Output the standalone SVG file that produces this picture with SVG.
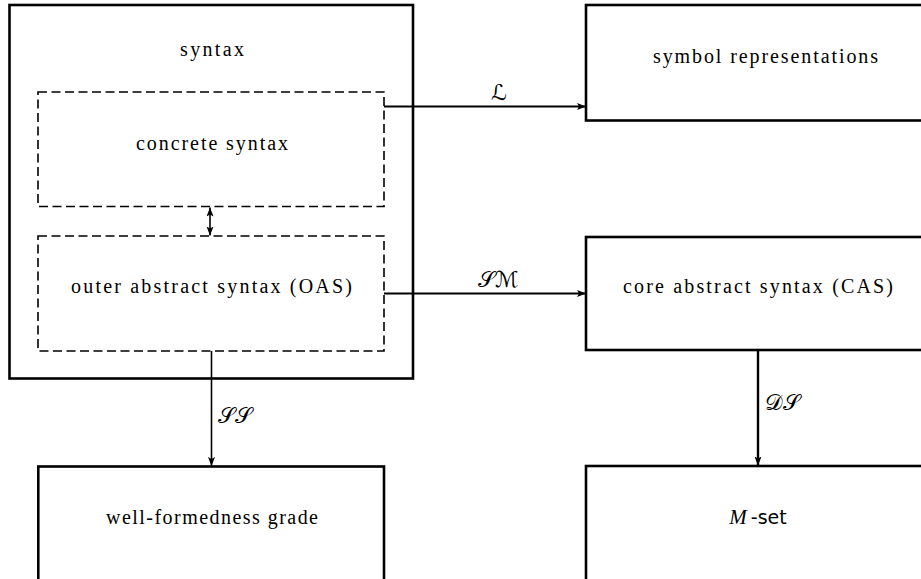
<svg xmlns="http://www.w3.org/2000/svg" width="921" height="579" viewBox="0 0 921 579">
<style>
  .box { fill: none; stroke: #000; stroke-width: 2.6; }
  .dash { fill: none; stroke: #000; stroke-width: 1.6; stroke-dasharray: 9 4.5; }
  .lbl { font-family: "Liberation Serif", "DejaVu Serif", serif; font-size: 20px; fill: #000; text-anchor: middle; }
  .math { font-family: "DejaVu Serif", "DejaVu Sans", "Noto Sans", serif; font-size: 22px; fill: #000; text-anchor: middle; }
  .conn { stroke: #000; fill: none; }
</style>
<defs>
  <marker id="ah" markerUnits="userSpaceOnUse" markerWidth="10" markerHeight="8" refX="9" refY="3.5" orient="auto">
    <path d="M0,0 L9,3.5 L0,7 L2,3.5 Z" fill="#000"/>
  </marker>
  <marker id="ahs" markerUnits="userSpaceOnUse" markerWidth="10" markerHeight="8" refX="9" refY="3.5" orient="auto-start-reverse">
    <path d="M0,0 L9,3.5 L0,7 L2,3.5 Z" fill="#000"/>
  </marker>
</defs>

<g id="syntax">
  <rect class="box" x="9.5" y="5" width="403.5" height="373.5"/>
  <text class="lbl" x="212" y="56" textLength="64" lengthAdjust="spacing">syntax</text>
</g>
<g id="concrete-syntax">
  <rect class="dash" x="38" y="92" width="346" height="114.5"/>
  <text class="lbl" x="212" y="150" textLength="152" lengthAdjust="spacing">concrete syntax</text>
</g>
<g id="outer-abstract-syntax">
  <rect class="dash" x="38" y="236" width="346" height="115"/>
  <text class="lbl" x="211.5" y="293" textLength="281" lengthAdjust="spacing">outer abstract syntax (OAS)</text>
</g>
<g id="symbol-representations">
  <rect class="box" x="586" y="5" width="345" height="115.5"/>
  <text class="lbl" x="765.5" y="63" textLength="225" lengthAdjust="spacing">symbol representations</text>
</g>
<g id="core-abstract-syntax">
  <rect class="box" x="586" y="237" width="345" height="113"/>
  <text class="lbl" x="758" y="293" textLength="270" lengthAdjust="spacing">core abstract syntax (CAS)</text>
</g>
<g id="well-formedness-grade">
  <rect class="box" x="38.3" y="466.5" width="345.7" height="130"/>
  <text class="lbl" x="212" y="524" textLength="212" lengthAdjust="spacing">well-formedness grade</text>
</g>
<g id="m-set">
  <rect class="box" x="586" y="466" width="345" height="130"/>
  <text x="758" y="523.5" text-anchor="middle" fill="#000"><tspan font-family="Liberation Serif, serif" font-style="italic" font-size="21">M</tspan><tspan dx="4" font-family="DejaVu Sans, sans-serif" font-size="19">-set</tspan></text>
</g>

<g id="connectors">
  <line class="conn" x1="384" y1="106.5" x2="586" y2="106.5" stroke-width="2" marker-end="url(#ah)"/>
  <text class="math" x="499" y="100">ℒ</text>
  <line class="conn" x1="384" y1="293.5" x2="586" y2="293.5" stroke-width="2" marker-end="url(#ah)"/>
  <text class="math" x="498" y="287">𝒮ℳ</text>
  <line class="conn" x1="211.5" y1="351" x2="211.5" y2="466" stroke-width="1.6" marker-end="url(#ah)"/>
  <text class="math" x="235" y="423">𝒮𝒮</text>
  <line class="conn" x1="758" y1="350" x2="758" y2="465.5" stroke-width="2.4" marker-end="url(#ah)"/>
  <text class="math" x="782" y="410">𝒟𝒮</text>
  <line class="conn" x1="210" y1="207.5" x2="210" y2="235.5" stroke-width="1.6" marker-start="url(#ahs)" marker-end="url(#ah)"/>
</g>
</svg>
